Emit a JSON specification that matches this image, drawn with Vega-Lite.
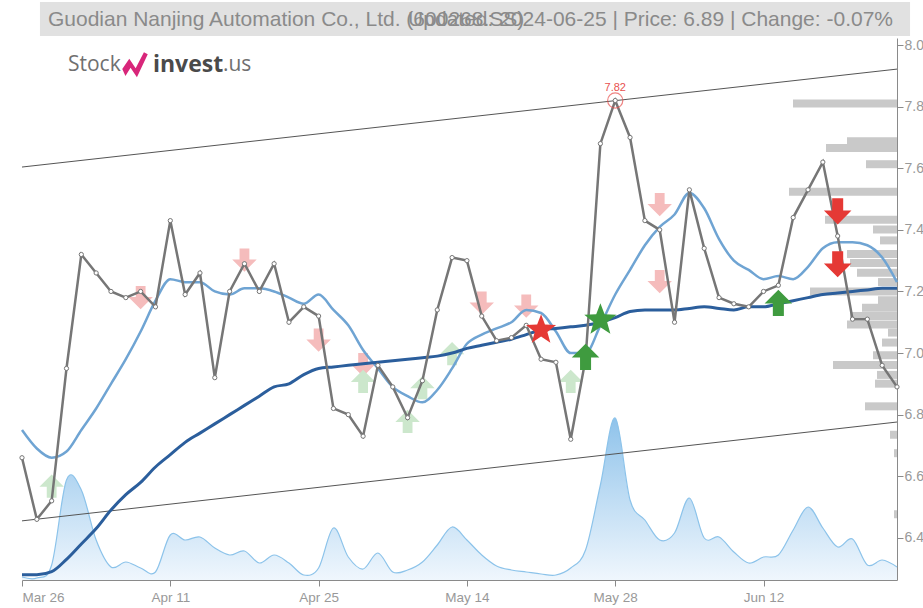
{
  "$schema": "https://vega.github.io/schema/vega-lite/v6.json",
  "width": 875,
  "height": 542,
  "autosize": {"type": "none"},
  "padding": {"left": 22, "top": 38, "right": 26, "bottom": 28},
  "background": "white",
  "config": {
    "view": {"stroke": null},
    "axis": {"labelFont": "Liberation Sans", "labelFontSize": 14, "labelColor": "#999999", "domainColor": "#8a8a8a", "tickColor": "#8a8a8a", "grid": false, "title": null}
  },
  "datasets": {
    "days": [
      {"i":0,"d":"2024-03-26","close":6.66,"maS":6.75,"maL":6.28,"vol":0.3},
      {"i":1,"d":"2024-03-27","close":6.46,"maS":6.69,"maL":6.28,"vol":0.2},
      {"i":2,"d":"2024-03-28","close":6.52,"maS":6.66,"maL":6.29,"vol":1.5},
      {"i":3,"d":"2024-03-29","close":6.95,"maS":6.68,"maL":6.33,"vol":10.0},
      {"i":4,"d":"2024-04-01","close":7.32,"maS":6.75,"maL":6.38,"vol":9.0},
      {"i":5,"d":"2024-04-02","close":7.26,"maS":6.82,"maL":6.43,"vol":4.0},
      {"i":6,"d":"2024-04-03","close":7.20,"maS":6.90,"maL":6.49,"vol":1.3},
      {"i":7,"d":"2024-04-08","close":7.18,"maS":6.98,"maL":6.54,"vol":1.8},
      {"i":8,"d":"2024-04-09","close":7.20,"maS":7.07,"maL":6.58,"vol":1.2},
      {"i":9,"d":"2024-04-10","close":7.15,"maS":7.17,"maL":6.63,"vol":0.8},
      {"i":10,"d":"2024-04-11","close":7.43,"maS":7.24,"maL":6.67,"vol":4.5},
      {"i":11,"d":"2024-04-12","close":7.19,"maS":7.23,"maL":6.71,"vol":4.0},
      {"i":12,"d":"2024-04-15","close":7.26,"maS":7.23,"maL":6.74,"vol":4.3},
      {"i":13,"d":"2024-04-16","close":6.92,"maS":7.20,"maL":6.77,"vol":3.2},
      {"i":14,"d":"2024-04-17","close":7.20,"maS":7.19,"maL":6.80,"vol":2.5},
      {"i":15,"d":"2024-04-18","close":7.29,"maS":7.21,"maL":6.83,"vol":2.9},
      {"i":16,"d":"2024-04-19","close":7.20,"maS":7.21,"maL":6.86,"vol":1.7},
      {"i":17,"d":"2024-04-22","close":7.29,"maS":7.20,"maL":6.89,"vol":2.5},
      {"i":18,"d":"2024-04-23","close":7.10,"maS":7.18,"maL":6.90,"vol":1.7},
      {"i":19,"d":"2024-04-24","close":7.15,"maS":7.16,"maL":6.93,"vol":0.5},
      {"i":20,"d":"2024-04-25","close":7.12,"maS":7.19,"maL":6.95,"vol":1.2},
      {"i":21,"d":"2024-04-26","close":6.82,"maS":7.14,"maL":6.955,"vol":5.2},
      {"i":22,"d":"2024-04-29","close":6.80,"maS":7.09,"maL":6.96,"vol":2.3},
      {"i":23,"d":"2024-04-30","close":6.73,"maS":7.01,"maL":6.965,"vol":1.1},
      {"i":24,"d":"2024-05-06","close":6.96,"maS":6.95,"maL":6.97,"vol":2.7},
      {"i":25,"d":"2024-05-07","close":6.89,"maS":6.89,"maL":6.975,"vol":0.8},
      {"i":26,"d":"2024-05-08","close":6.79,"maS":6.86,"maL":6.98,"vol":1.0},
      {"i":27,"d":"2024-05-09","close":6.91,"maS":6.84,"maL":6.985,"vol":1.8},
      {"i":28,"d":"2024-05-10","close":7.14,"maS":6.88,"maL":6.99,"vol":3.5},
      {"i":29,"d":"2024-05-13","close":7.31,"maS":6.95,"maL":7.00,"vol":5.3},
      {"i":30,"d":"2024-05-14","close":7.30,"maS":7.03,"maL":7.015,"vol":4.0},
      {"i":31,"d":"2024-05-15","close":7.12,"maS":7.06,"maL":7.025,"vol":2.5},
      {"i":32,"d":"2024-05-16","close":7.04,"maS":7.08,"maL":7.035,"vol":1.4},
      {"i":33,"d":"2024-05-17","close":7.05,"maS":7.10,"maL":7.045,"vol":1.0},
      {"i":34,"d":"2024-05-20","close":7.09,"maS":7.14,"maL":7.06,"vol":0.8},
      {"i":35,"d":"2024-05-21","close":6.98,"maS":7.13,"maL":7.075,"vol":0.6},
      {"i":36,"d":"2024-05-22","close":6.97,"maS":7.07,"maL":7.08,"vol":0.5},
      {"i":37,"d":"2024-05-23","close":6.72,"maS":7.00,"maL":7.085,"vol":1.2},
      {"i":38,"d":"2024-05-24","close":6.98,"maS":7.00,"maL":7.09,"vol":3.0},
      {"i":39,"d":"2024-05-27","close":7.68,"maS":7.09,"maL":7.10,"vol":9.5},
      {"i":40,"d":"2024-05-28","close":7.82,"maS":7.19,"maL":7.115,"vol":16.2},
      {"i":41,"d":"2024-05-29","close":7.70,"maS":7.27,"maL":7.135,"vol":8.0},
      {"i":42,"d":"2024-05-30","close":7.43,"maS":7.35,"maL":7.14,"vol":6.0},
      {"i":43,"d":"2024-05-31","close":7.40,"maS":7.41,"maL":7.14,"vol":4.0},
      {"i":44,"d":"2024-06-03","close":7.10,"maS":7.45,"maL":7.14,"vol":4.7},
      {"i":45,"d":"2024-06-04","close":7.53,"maS":7.52,"maL":7.145,"vol":8.2},
      {"i":46,"d":"2024-06-05","close":7.34,"maS":7.47,"maL":7.15,"vol":4.2},
      {"i":47,"d":"2024-06-06","close":7.18,"maS":7.37,"maL":7.145,"vol":4.3},
      {"i":48,"d":"2024-06-07","close":7.16,"maS":7.30,"maL":7.14,"vol":2.8},
      {"i":49,"d":"2024-06-11","close":7.15,"maS":7.27,"maL":7.15,"vol":1.7},
      {"i":50,"d":"2024-06-12","close":7.20,"maS":7.24,"maL":7.15,"vol":2.3},
      {"i":51,"d":"2024-06-13","close":7.22,"maS":7.25,"maL":7.16,"vol":2.5},
      {"i":52,"d":"2024-06-14","close":7.44,"maS":7.24,"maL":7.17,"vol":5.0},
      {"i":53,"d":"2024-06-17","close":7.53,"maS":7.28,"maL":7.18,"vol":7.3},
      {"i":54,"d":"2024-06-18","close":7.62,"maS":7.34,"maL":7.19,"vol":5.2},
      {"i":55,"d":"2024-06-19","close":7.38,"maS":7.36,"maL":7.195,"vol":3.3},
      {"i":56,"d":"2024-06-20","close":7.11,"maS":7.36,"maL":7.20,"vol":4.1},
      {"i":57,"d":"2024-06-21","close":7.11,"maS":7.35,"maL":7.205,"vol":1.5},
      {"i":58,"d":"2024-06-24","close":6.96,"maS":7.31,"maL":7.21,"vol":2.0},
      {"i":59,"d":"2024-06-25","close":6.89,"maS":7.23,"maL":7.21,"vol":1.3}
    ],
    "profile": [
      {"p":7.823,"pv":104},{"p":7.698,"pv":50},{"p":7.676,"pv":71},{"p":7.622,"pv":31},
      {"p":7.531,"pv":108},{"p":7.438,"pv":72},{"p":7.406,"pv":24},{"p":7.370,"pv":17},
      {"p":7.325,"pv":50},{"p":7.295,"pv":47},{"p":7.263,"pv":40},{"p":7.232,"pv":19},
      {"p":7.201,"pv":87},{"p":7.172,"pv":19},{"p":7.147,"pv":35},{"p":7.120,"pv":47},
      {"p":7.092,"pv":50},{"p":7.065,"pv":9},{"p":7.032,"pv":15},{"p":6.990,"pv":24},
      {"p":6.958,"pv":64},{"p":6.925,"pv":20},{"p":6.896,"pv":22},{"p":6.821,"pv":32},
      {"p":6.727,"pv":7},{"p":6.666,"pv":3},{"p":6.464,"pv":3}
    ],
    "trend": [
      {"line":"upper","i":0,"p":7.604},{"line":"upper","i":59,"p":7.922},
      {"line":"lower","i":0,"p":6.455},{"line":"lower","i":59,"p":6.776}
    ],
    "signals": [
      {"i":8,"p":7.178,"k":"down_f"},{"i":15,"p":7.30,"k":"down_f"},{"i":20,"p":7.04,"k":"down_f"},
      {"i":23,"p":6.96,"k":"down_f"},{"i":31,"p":7.16,"k":"down_f"},{"i":34,"p":7.15,"k":"down_f"},
      {"i":43,"p":7.48,"k":"down_f"},{"i":43,"p":7.23,"k":"down_f"},
      {"i":2,"p":6.57,"k":"up_f"},{"i":23,"p":6.91,"k":"up_f"},{"i":26,"p":6.78,"k":"up_f"},
      {"i":27,"p":6.89,"k":"up_f"},{"i":29,"p":7.00,"k":"up_f"},{"i":37,"p":6.91,"k":"up_f"},
      {"i":35,"p":7.075,"k":"star_red"},{"i":38,"p":6.99,"k":"up"},{"i":39,"p":7.107,"k":"star_green"},
      {"i":51,"p":7.165,"k":"up"},{"i":55,"p":7.458,"k":"down"},{"i":55,"p":7.286,"k":"down"}
    ],
    "maxpt": [{"i":40,"p":7.82,"label":"7.82"}]
  },
  "layer": [
    {
      "data": {"name": "days"},
      "mark": {"type": "area", "interpolate": "cardinal",
        "line": {"color": "#8cc3ea", "strokeWidth": 1.2},
        "color": {"gradient": "linear", "x1": 0, "y1": 0, "x2": 0, "y2": 1,
          "stops": [{"offset": 0, "color": "#5fa9e2"}, {"offset": 1, "color": "#e9f3fc"}]}},
      "encoding": {
        "x": {"field": "i", "type": "quantitative", "scale": {"domain": [0, 59], "nice": false, "zero": false}, "axis": null},
        "y": {"field": "vol", "type": "quantitative", "scale": {"domain": [0, 54.2], "nice": false}, "axis": null}
      }
    },
    {
      "data": {"name": "profile"},
      "mark": {"type": "bar", "orient": "horizontal", "size": 8, "color": "#c9c9c9"},
      "encoding": {
        "x": {"field": "pv", "type": "quantitative", "scale": {"domain": [0, 875], "reverse": true, "nice": false}, "axis": null},
        "y": {"field": "p", "type": "quantitative", "scale": {"domain": [6.263, 8.023], "nice": false, "zero": false}, "axis": null}
      }
    },
    {
      "layer": [
        {
          "data": {"name": "trend"},
          "mark": {"type": "line", "color": "#555555", "strokeWidth": 1},
          "encoding": {
            "x": {"field": "i", "type": "quantitative", "scale": {"domain": [0, 59], "nice": false, "zero": false},
              "axis": {"values": [0, 10, 20, 30, 40, 50], "labelExpr": "['Mar 26','Apr 11','Apr 25','May 14','May 28','Jun 12'][datum.value/10]", "tickSize": 6, "labelPadding": 4, "labelFontSize": 13.5}},
            "y": {"field": "p", "type": "quantitative", "scale": {"domain": [6.263, 8.023], "nice": false, "zero": false},
              "axis": {"orient": "right", "values": [6.4, 6.6, 6.8, 7.0, 7.2, 7.4, 7.6, 7.8, 8.0], "format": ".1f", "tickSize": 6, "labelPadding": 1}},
            "detail": {"field": "line"}
          }
        },
        {
          "data": {"name": "signals"},
          "transform": [{"filter": "indexof(['down_f','up_f'], datum.k) >= 0"}],
          "mark": {"type": "point", "filled": true, "opacity": 1},
          "encoding": {
            "x": {"field": "i", "type": "quantitative"},
            "y": {"field": "p", "type": "quantitative"},
            "shape": {"field": "k", "type": "nominal", "legend": null,
              "scale": {"domain": ["down_f", "up_f", "down", "up", "star_red", "star_green"], "range": ["M-0.4,-1L0.4,-1L0.4,-0.1L1,-0.1L0,0.9L-1,-0.1L-0.4,-0.1Z", "M-0.4,1L0.4,1L0.4,0.1L1,0.1L0,-0.9L-1,0.1L-0.4,0.1Z", "M-0.4,-1L0.4,-1L0.4,-0.1L1,-0.1L0,0.9L-1,-0.1L-0.4,-0.1Z", "M-0.4,1L0.4,1L0.4,0.1L1,0.1L0,-0.9L-1,0.1L-0.4,0.1Z", "M0,-1L0.247,-0.34L0.951,-0.309L0.399,0.13L0.588,0.809L0,0.42L-0.588,0.809L-0.399,0.13L-0.951,-0.309L-0.247,-0.34Z", "M0,-1L0.247,-0.34L0.951,-0.309L0.399,0.13L0.588,0.809L0,0.42L-0.588,0.809L-0.399,0.13L-0.951,-0.309L-0.247,-0.34Z"]}},
            "color": {"field": "k", "type": "nominal", "legend": null,
              "scale": {"domain": ["down_f", "up_f", "down", "up", "star_red", "star_green"], "range": ["#f5bcbc", "#cce7cc", "#e53935", "#3f9b3f", "#e53935", "#3f9b3f"]}},
            "size": {"field": "k", "type": "nominal", "legend": null,
              "scale": {"type": "ordinal", "domain": ["down_f", "up_f", "down", "up", "star_red", "star_green"], "range": [600, 600, 760, 760, 1000, 1150]}}
          }
        },
        {
          "data": {"name": "days"},
          "mark": {"type": "line", "interpolate": "monotone", "color": "#6fa4d3", "strokeWidth": 2.5},
          "encoding": {
            "x": {"field": "i", "type": "quantitative"},
            "y": {"field": "maS", "type": "quantitative"}
          }
        },
        {
          "data": {"name": "days"},
          "mark": {"type": "line", "interpolate": "monotone", "color": "#2b5e9c", "strokeWidth": 3},
          "encoding": {
            "x": {"field": "i", "type": "quantitative"},
            "y": {"field": "maL", "type": "quantitative"}
          }
        },
        {
          "data": {"name": "days"},
          "mark": {"type": "line", "color": "#767676", "strokeWidth": 2.5,
            "point": {"filled": true, "fill": "white", "stroke": "#767676", "strokeWidth": 1, "size": 18}},
          "encoding": {
            "x": {"field": "i", "type": "quantitative"},
            "y": {"field": "close", "type": "quantitative"}
          }
        },
        {
          "data": {"name": "signals"},
          "transform": [{"filter": "indexof(['down_f','up_f'], datum.k) < 0"}],
          "mark": {"type": "point", "filled": true, "opacity": 1},
          "encoding": {
            "x": {"field": "i", "type": "quantitative"},
            "y": {"field": "p", "type": "quantitative"},
            "shape": {"field": "k", "type": "nominal", "legend": null,
              "scale": {"domain": ["down_f", "up_f", "down", "up", "star_red", "star_green"], "range": ["M-0.4,-1L0.4,-1L0.4,-0.1L1,-0.1L0,0.9L-1,-0.1L-0.4,-0.1Z", "M-0.4,1L0.4,1L0.4,0.1L1,0.1L0,-0.9L-1,0.1L-0.4,0.1Z", "M-0.4,-1L0.4,-1L0.4,-0.1L1,-0.1L0,0.9L-1,-0.1L-0.4,-0.1Z", "M-0.4,1L0.4,1L0.4,0.1L1,0.1L0,-0.9L-1,0.1L-0.4,0.1Z", "M0,-1L0.247,-0.34L0.951,-0.309L0.399,0.13L0.588,0.809L0,0.42L-0.588,0.809L-0.399,0.13L-0.951,-0.309L-0.247,-0.34Z", "M0,-1L0.247,-0.34L0.951,-0.309L0.399,0.13L0.588,0.809L0,0.42L-0.588,0.809L-0.399,0.13L-0.951,-0.309L-0.247,-0.34Z"]}},
            "color": {"field": "k", "type": "nominal", "legend": null,
              "scale": {"domain": ["down_f", "up_f", "down", "up", "star_red", "star_green"], "range": ["#f5bcbc", "#cce7cc", "#e53935", "#3f9b3f", "#e53935", "#3f9b3f"]}},
            "size": {"field": "k", "type": "nominal", "legend": null,
              "scale": {"type": "ordinal", "domain": ["down_f", "up_f", "down", "up", "star_red", "star_green"], "range": [600, 600, 760, 760, 1000, 1150]}}
          }
        },
        {
          "data": {"name": "maxpt"},
          "mark": {"type": "point", "shape": "circle", "filled": false, "stroke": "#e8504e", "strokeWidth": 1.2, "size": 230},
          "encoding": {
            "x": {"field": "i", "type": "quantitative"},
            "y": {"field": "p", "type": "quantitative"}
          }
        },
        {
          "data": {"name": "maxpt"},
          "mark": {"type": "text", "color": "#e8504e", "fontSize": 11, "font": "Liberation Sans", "dy": -13},
          "encoding": {
            "x": {"field": "i", "type": "quantitative"},
            "y": {"field": "p", "type": "quantitative"},
            "text": {"field": "label"}
          }
        },
        {
          "data": {"values": [{}]},
          "mark": {"type": "rect", "color": "#e1e1e1"},
          "encoding": {
            "x": {"datum": 1.21, "type": "quantitative"},
            "x2": {"datum": 59.88},
            "y": {"datum": 8.1396, "type": "quantitative"},
            "y2": {"datum": 8.0292}
          }
        },
        {
          "data": {"values": [{}]},
          "mark": {"type": "text", "align": "left", "baseline": "middle", "font": "Liberation Sans", "fontSize": 21, "color": "#8a8a8a"},
          "encoding": {
            "x": {"datum": 1.75, "type": "quantitative"},
            "y": {"datum": 8.081, "type": "quantitative"},
            "text": {"value": "Guodian Nanjing Automation Co., Ltd. (600268.SS)"}
          }
        },
        {
          "data": {"values": [{}]},
          "mark": {"type": "text", "align": "right", "baseline": "middle", "font": "Liberation Sans", "fontSize": 21, "color": "#8a8a8a"},
          "encoding": {
            "x": {"datum": 58.73, "type": "quantitative"},
            "y": {"datum": 8.081, "type": "quantitative"},
            "text": {"value": "Updated: 2024-06-25 | Price: 6.89 | Change: -0.07%"}
          }
        },
        {
          "data": {"values": [{}]},
          "mark": {"type": "text", "align": "left", "baseline": "middle", "font": "Open Sans", "fontSize": 21, "color": "#707070"},
          "encoding": {
            "x": {"datum": 3.1, "type": "quantitative"},
            "y": {"datum": 7.935, "type": "quantitative"},
            "text": {"value": "Stock"}
          }
        },
        {
          "data": {"values": [{}]},
          "mark": {"type": "point", "filled": true, "color": "#d8267a", "opacity": 1, "size": 650,
            "shape": "M-1,0.3L-0.45,-0.5L0.05,0.25L0.7,-1L1,-0.85L0.15,0.95L-0.35,0.2L-0.75,0.85Z"},
          "encoding": {
            "x": {"datum": 7.62, "type": "quantitative"},
            "y": {"datum": 7.935, "type": "quantitative"}
          }
        },
        {
          "data": {"values": [{}]},
          "mark": {"type": "text", "align": "left", "baseline": "middle", "font": "Open Sans", "fontSize": 23, "fontWeight": "bold", "color": "#4a4a4a"},
          "encoding": {
            "x": {"datum": 8.83, "type": "quantitative"},
            "y": {"datum": 7.935, "type": "quantitative"},
            "text": {"value": "invest"}
          }
        },
        {
          "data": {"values": [{}]},
          "mark": {"type": "text", "align": "left", "baseline": "middle", "font": "Open Sans", "fontSize": 21, "color": "#707070"},
          "encoding": {
            "x": {"datum": 13.55, "type": "quantitative"},
            "y": {"datum": 7.935, "type": "quantitative"},
            "text": {"value": ".us"}
          }
        }
      ]
    }
  ],
  "resolve": {"scale": {"x": "independent", "y": "independent"}}
}
